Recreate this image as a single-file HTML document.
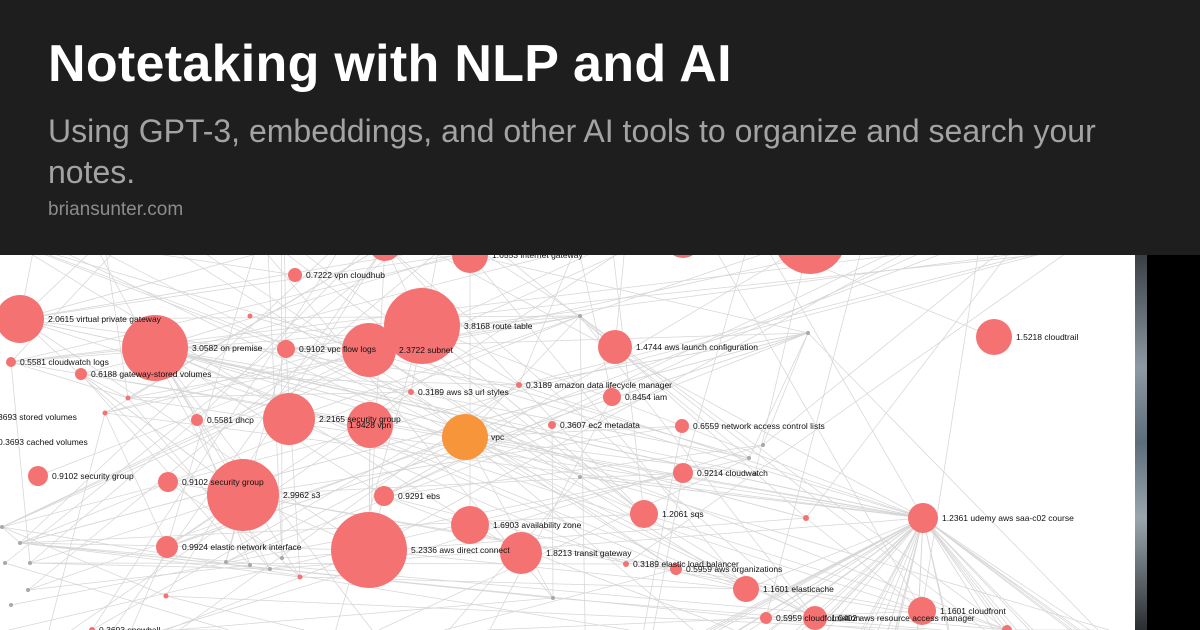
<!DOCTYPE html>
<html><head><meta charset="utf-8">
<style>
html,body{margin:0;padding:0;width:1200px;height:630px;overflow:hidden;background:#fff;font-family:"Liberation Sans",sans-serif}
#banner{position:absolute;left:0;top:0;width:1200px;height:255px;background:#1e1e1e;z-index:2}
#t{position:absolute;left:48px;top:34px;font-size:52px;font-weight:bold;color:#fff;letter-spacing:0.3px}
#s{position:absolute;left:48px;top:111px;width:1100px;font-size:32px;line-height:41px;color:#a3a3a3}
#u{position:absolute;left:48px;top:199px;font-size:19px;color:#8c8c8c}
svg{position:absolute;left:0;top:0}
#strip{position:absolute;left:1135px;top:255px;width:12px;height:375px;background:linear-gradient(#3a3f44,#8d99a3 30%,#5d6d7a 50%,#9aa6ae 70%,#2b2e31)}
#blk{position:absolute;left:1147px;top:255px;width:53px;height:375px;background:#000}
</style></head><body>
<svg id="g" width="1135" height="630" viewBox="0 0 1135 630"><g id="edges" stroke="#d6d6d6" stroke-width="0.75"></g><g id="nodes"></g><g id="labels" font-family="Liberation Sans, sans-serif" font-size="8.5" fill="#111"></g></svg>
<div id="strip"></div><div id="blk"></div>
<div id="banner">
<div id="t">Notetaking with NLP and AI</div>
<div id="s">Using GPT-3, embeddings, and other AI tools to organize and search your notes.</div>
<div id="u">briansunter.com</div>
</div>
<script>
var N=[
[385,245,16,""],[470,255,18,"1.6553 internet gateway"],[683,240,18,""],[810,238,36,""],
[295,275,7,"0.7222 vpn cloudhub"],[20,319,24,"2.0615 virtual private gateway"],[155,348,33,"3.0582 on premise"],
[11,362,5,"0.5581 cloudwatch logs"],[81,374,6,"0.6188 gateway-stored volumes"],[286,349,9,"0.9102 vpc flow logs"],
[369,350,27,""],[422,326,38,"3.8168 route table"],[615,347,17,"1.4744 aws launch configuration"],
[994,337,18,"1.5218 cloudtrail"],[411,392,3,"0.3189 aws s3 url styles"],[519,385,3,"0.3189 amazon data lifecycle manager"],
[612,397,9,"0.8454 iam"],[197,420,6,"0.5581 dhcp"],[289,419,26,"2.2165 security group"],[370,425,23,""],
[552,425,4,"0.3607 ec2 metadata"],[682,426,7,"0.6559 network access control lists"],[683,473,10,"0.9214 cloudwatch"],
[38,476,10,"0.9102 security group"],[168,482,10,"0.9102  security group"],[243,495,36,"2.9962 s3"],
[384,496,10,"0.9291 ebs"],[470,525,19,"1.6903 availability zone"],[644,514,14,"1.2061 sqs"],[806,518,3,""],
[923,518,15,"1.2361 udemy aws saa-c02 course"],[167,547,11,"0.9924 elastic network interface"],[369,550,38,"5.2336 aws direct connect"],
[521,553,21,"1.8213 transit gateway"],[626,564,3,"0.3189 elastic load balancer"],[676,569,6,"0.5959 aws organizations"],
[746,589,13,"1.1601 elasticache"],[922,611,14,"1.1601 cloudfront"],[766,618,6,"0.5959 cloudformation"],[815,618,12,"1.0402 aws resource access manager"],
[92,630,3,"0.3693 snowball"],[250,316,2.5,""],[128,398,2.5,""],[105,413,2.5,""],[300,577,2.5,""],[166,596,2.5,""],[1007,630,5,""]
];
var G=[[2,527],[20,543],[5,563],[30,563],[28,590],[11,605],[226,562],[250,565],[270,569],[282,558],[580,316],[580,477],[808,333],[763,445],[749,458],[755,474],[553,598]];
var s=7;function r(){s=(s*9301+49297)%233280;return s/233280;}
var e='',pts=N.map(function(n){return [n[0],n[1]]}).concat(G);
var hubs=[[465,437],[923,518],[808,333],[580,316],[369,550],[243,495],[155,348],[422,326]];
for(var i=0;i<230;i++){var a=pts[Math.floor(r()*pts.length)],b;
 var k=r();if(k<0.3)b=hubs[Math.floor(r()*hubs.length)];else if(k<0.7)b=[r()*1135,k<0.55?250:630];else b=pts[Math.floor(r()*pts.length)];
 e+='<line x1="'+a[0]+'" y1="'+a[1]+'" x2="'+b[0].toFixed(1)+'" y2="'+b[1].toFixed(1)+'"/>';}
for(var i=0;i<40;i++){e+='<line x1="923" y1="518" x2="'+(700+r()*400).toFixed(1)+'" y2="630"/>';}
document.getElementById('edges').innerHTML=e;
var nd='',lb='';
N.forEach(function(n){nd+='<circle cx="'+n[0]+'" cy="'+n[1]+'" r="'+n[2]+'" fill="#f47272"/>';
 if(n[3])lb+='<text x="'+(n[0]+n[2]+4)+'" y="'+(n[1]+3)+'">'+n[3]+'</text>';});
nd+='<circle cx="465" cy="437" r="23" fill="#f7953b"/>';
G.forEach(function(p){nd+='<circle cx="'+p[0]+'" cy="'+p[1]+'" r="2" fill="#a8a8a8"/>';});
lb+='<text x="399" y="353">2.3722 subnet</text><text x="349" y="428">1.9428 vpn</text><text x="491" y="440">vpc</text>';
lb+='<text x="-2" y="420">3693 stored volumes</text><text x="-2" y="445">0.3693 cached volumes</text>';
document.getElementById('nodes').innerHTML=nd;document.getElementById('labels').innerHTML=lb;
</script>
</body></html>
